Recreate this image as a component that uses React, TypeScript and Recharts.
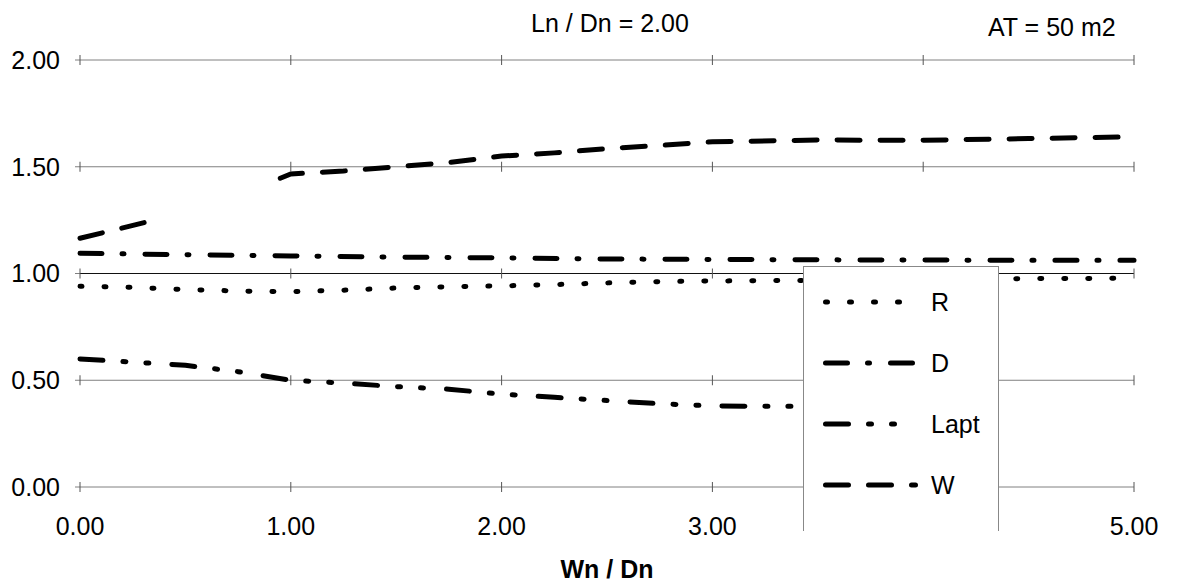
import React from 'react';
import {
  LineChart,
  Line,
  XAxis,
  YAxis,
  CartesianGrid,
  ReferenceLine,
  ReferenceDot,
  Legend,
} from 'recharts';

const FONT = '"Liberation Sans", Arial, Helvetica, sans-serif';

// Axis ticks
const xTicks = [0, 1, 2, 3, 4, 5];
const yTicks = [0, 0.5, 1, 1.5, 2];
// x tick labels that sit under the legend box are left out
const hiddenXLabels = [4];

// R
const rX = [0, 0.25, 0.5, 0.75, 1, 1.25, 1.5, 1.75, 2, 2.25, 2.5, 2.75, 3, 3.5, 4, 4.5, 5];
const rY = [0.94, 0.935, 0.925, 0.918, 0.915, 0.922, 0.932, 0.938, 0.942, 0.948, 0.956, 0.962, 0.965, 0.968, 0.972, 0.976, 0.978];

// D
const dX = [0, 0.5, 1, 1.5, 2, 2.5, 3, 3.5, 4, 4.5, 5];
const dY = [1.095, 1.088, 1.082, 1.077, 1.073, 1.068, 1.066, 1.064, 1.063, 1.062, 1.062];

// Lapt
const laptX = [0, 0.25, 0.5, 0.75, 1, 1.25, 1.5, 1.75, 2, 2.25, 2.5, 2.75, 3, 3.25, 3.5];
const laptY = [0.6, 0.585, 0.57, 0.54, 0.5, 0.487, 0.47, 0.458, 0.435, 0.42, 0.405, 0.39, 0.38, 0.378, 0.378];

// W (broken between the two segments)
const wX = [0, 0.32, 0.6, 0.95, 1, 1.25, 1.5, 1.75, 2, 2.25, 2.5, 2.75, 3, 3.5, 4, 4.5, 5];
const wY = [1.165, 1.242, null, 1.446, 1.466, 1.48, 1.5, 1.52, 1.55, 1.565, 1.585, 1.6, 1.617, 1.625, 1.624, 1.632, 1.64];

const toPoints = (xs: number[], ys: (number | null)[]) => xs.map((x, i) => ({ x, y: ys[i] }));

const series = [
  { name: 'R', data: toPoints(rX, rY), dash: '2 22' },
  { name: 'D', data: toPoints(dX, dY), dash: '22 20 2 21' },
  { name: 'Lapt', data: toPoints(laptX, laptY), dash: '23 20 3 20 3 23' },
  { name: 'W', data: toPoints(wX, wY), dash: '23 20' },
];

const LINE_W = 5;

const LegendBox = () => (
  <svg width={196} height={265} style={{ display: 'block' }}>
    {series.map((s, i) => {
      const cy = 35 + i * 61;
      return (
        <g key={s.name}>
          <line
            x1={21.5}
            x2={111.5}
            y1={cy}
            y2={cy}
            stroke="#000"
            strokeWidth={LINE_W}
            strokeLinecap="round"
            strokeDasharray={s.dash}
          />
          <text x={127} y={cy} dy="0.355em" fontFamily={FONT} fontSize={25} fill="#000">
            {s.name}
          </text>
        </g>
      );
    })}
  </svg>
);

// little vertical marks where gridlines cross each x tick
const crossMark = (p: any) => (
  <line x1={p.cx} x2={p.cx} y1={p.cy - 5} y2={p.cy + 5} stroke="#555" strokeWidth={1} />
);

export default function App() {
  return (
    <div style={{ position: 'absolute', left: 0, top: 0, width: 1177, height: 585, background: '#fff' }}>
      <LineChart
        width={1177}
        height={585}
        margin={{ top: 60, right: 43, bottom: 38, left: 0 }}
        style={{ fontFamily: FONT }}
      >
        <CartesianGrid horizontal vertical={false} stroke="#808080" strokeWidth={1} />
        <XAxis
          dataKey="x"
          type="number"
          domain={[0, 5]}
          ticks={xTicks}
          tickFormatter={(v: number) => (hiddenXLabels.includes(v) ? '' : v.toFixed(2))}
          axisLine={false}
          tickLine={false}
          tickSize={0}
          tickMargin={30}
          height={60}
          tick={{ fontSize: 25, fill: '#000', fontFamily: FONT }}
          allowDuplicatedCategory={false}
        />
        <YAxis
          type="number"
          domain={[0, 2]}
          ticks={yTicks}
          tickFormatter={(v: number) => v.toFixed(2)}
          axisLine={false}
          tickLine={{ stroke: '#808080' }}
          tickSize={5}
          tickMargin={15}
          width={80}
          tick={{ fontSize: 25, fill: '#000', fontFamily: FONT }}
        />
        <ReferenceLine y={1} stroke="#111" strokeWidth={1.2} />
        {xTicks.map((x) =>
          yTicks.map((y) => (
            <ReferenceDot key={`m-${x}-${y}`} x={x} y={y} r={0} shape={crossMark} />
          ))
        )}
        {series.map((s) => (
          <Line
            key={s.name}
            name={s.name}
            data={s.data}
            dataKey="y"
            type="linear"
            stroke="#000"
            strokeWidth={LINE_W}
            strokeLinecap="round"
            strokeDasharray={s.dash}
            dot={false}
            activeDot={false}
            connectNulls={false}
            isAnimationActive={false}
          />
        ))}
        <Legend
          layout="horizontal"
          align="center"
          verticalAlign="middle"
          content={() => <LegendBox />}
          wrapperStyle={{
            left: 803,
            top: 266,
            width: 196,
            height: 265,
            background: '#fff',
            borderLeft: '1px solid #888',
            borderRight: '1px solid #888',
            borderTop: '1px solid #888',
            boxSizing: 'border-box',
          }}
        />
      </LineChart>
      <svg
        width={1177}
        height={585}
        style={{ position: 'absolute', left: 0, top: 0, pointerEvents: 'none' }}
      >
        <text x={610} y={32} textAnchor="middle" fontFamily={FONT} fontSize={25} fill="#000">
          Ln / Dn = 2.00
        </text>
        <text x={988} y={36} textAnchor="start" fontFamily={FONT} fontSize={25} fill="#000">
          AT = 50 m2
        </text>
        <text x={607} y={578} textAnchor="middle" fontFamily={FONT} fontSize={25} fontWeight="bold" fill="#000">
          Wn / Dn
        </text>
      </svg>
    </div>
  );
}
